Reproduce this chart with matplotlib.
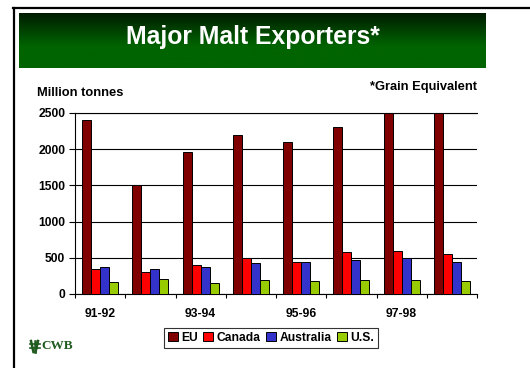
import numpy as np
import matplotlib
matplotlib.use("Agg")
import matplotlib.pyplot as plt
from matplotlib.colors import LinearSegmentedColormap
from matplotlib.lines import Line2D
from matplotlib.patches import Patch

plt.rcParams['font.family'] = ['Liberation Sans', 'DejaVu Sans']
plt.rcParams['font.weight'] = 'bold'

# Export volumes by season
seasons = ["91-92", "92-93", "93-94", "94-95", "95-96", "96-97", "97-98", "98-99"]
eu = [2400, 1500, 1955, 2200, 2100, 2305, 2500, 2500]
canada = [340, 300, 395, 500, 448, 585, 598, 548]
australia = [368, 340, 368, 422, 448, 470, 502, 438]
us = [160, 207, 152, 193, 180, 193, 193, 180]

series_names = ["EU", "Canada", "Australia", "U.S."]
series_colors = ["#800000", "#ff0000", "#3333cc", "#99cc00"]
yticks = [0, 500, 1000, 1500, 2000, 2500]

W, H = 530, 368
fig = plt.figure(figsize=(W / 100, H / 100), dpi=100)
fig.patch.set_facecolor("white")

# page border on top and left
fig.add_artist(Line2D([13 / W, 1], [1 - 8 / H, 1 - 8 / H], color="black", lw=1.6))
fig.add_artist(Line2D([14 / W, 14 / W], [0, 1 - 8 / H], color="black", lw=1.6))

# green title banner with vertical gradient
banner = fig.add_axes([19 / W, 1 - 68 / H, 467 / W, 55 / H])
cmap = LinearSegmentedColormap.from_list(
    "banner", [(0, "#001c00"), (0.6, "#006400"), (1, "#006400")])
grad = np.linspace(0, 1, 100).reshape(-1, 1)
banner.imshow(grad, aspect="auto", cmap=cmap, extent=[0, 1, 1, 0])
banner.set_xlim(0, 1)
banner.set_ylim(1, 0)
banner.axis("off")
banner.text(0.5, 0.43, "Major Malt Exporters*", color="white", fontsize=17.8,
            fontweight="bold", ha="center", va="center")

# chart area
ax = fig.add_axes([75 / W, 1 - 294 / H, 402 / W, 181 / H])
x = np.arange(len(seasons))
width = 0.18
offsets = [-0.27, -0.09, 0.09, 0.27]
for vals, off, col, name in zip([eu, canada, australia, us], offsets,
                                series_colors, series_names):
    ax.bar(x + off, vals, width, color=col, edgecolor="black", linewidth=0.7,
           label=name, zorder=3)

ax.set_xlim(-0.5, len(seasons) - 0.5)
ax.set_ylim(0, 2500)
ax.set_yticks(yticks)
ax.set_yticklabels([str(v) for v in yticks], fontsize=8.7, fontweight="bold")
ax.yaxis.grid(True, color="black", lw=0.8, zorder=0)
ax.set_axisbelow(True)

# boundary ticks between seasons, labels on every other season
ax.set_xticks(np.arange(-0.5, len(seasons), 1.0))
ax.set_xticklabels([])
ax.set_xticks(x[::2], minor=True)
ax.set_xticklabels(seasons[::2], minor=True, fontsize=8.7, fontweight="bold")
ax.tick_params(axis="x", which="major", length=3, width=0.8, direction="out")
ax.tick_params(axis="x", which="minor", length=0, pad=10)
ax.tick_params(axis="y", length=4, width=0.8, pad=3)
ax.spines["right"].set_visible(False)
for side in ["top", "left", "bottom"]:
    ax.spines[side].set_linewidth(0.8)

fig.text(37 / W, 1 - 93 / H, "Million tonnes", fontsize=9.3, fontweight="bold",
         ha="left", va="center")
fig.text(477 / W, 1 - 87 / H, "*Grain Equivalent", fontsize=9.3,
         fontweight="bold", ha="right", va="center")

# legend
handles = [Patch(facecolor=c, edgecolor="black", lw=0.7) for c in series_colors]
leg = fig.legend(handles, series_names, loc="center", ncol=4,
                 bbox_to_anchor=(271 / W, 1 - 338 / H), fontsize=8.7,
                 frameon=True, fancybox=False, edgecolor="black",
                 handlelength=0.8, handleheight=0.8, handletextpad=0.3,
                 columnspacing=0.45, borderpad=0.3, borderaxespad=0)
leg.get_frame().set_linewidth(0.8)
for t in leg.get_texts():
    t.set_fontweight("bold")

# CWB logo: small wheat sheaf and letters
logo_col = "#1f5a1f"
lx, ly = 34.5, 346
for dx in (-3.5, 0, 3.5):
    fig.add_artist(Line2D([(lx + dx * 0.3) / W, (lx + dx) / W],
                          [1 - (ly + 6) / H, 1 - (ly - 5) / H],
                          color=logo_col, lw=1.8))
for dy in (-2, 2):
    fig.add_artist(Line2D([(lx - 5) / W, (lx + 5) / W],
                          [1 - (ly + dy) / H, 1 - (ly + dy) / H],
                          color=logo_col, lw=1.2))
fig.text(41 / W, 1 - ly / H, "CWB", family="Liberation Serif", fontsize=9.5,
         fontweight="bold", color=logo_col, ha="left", va="center")

fig.savefig("out.png", dpi=100, facecolor="white")
